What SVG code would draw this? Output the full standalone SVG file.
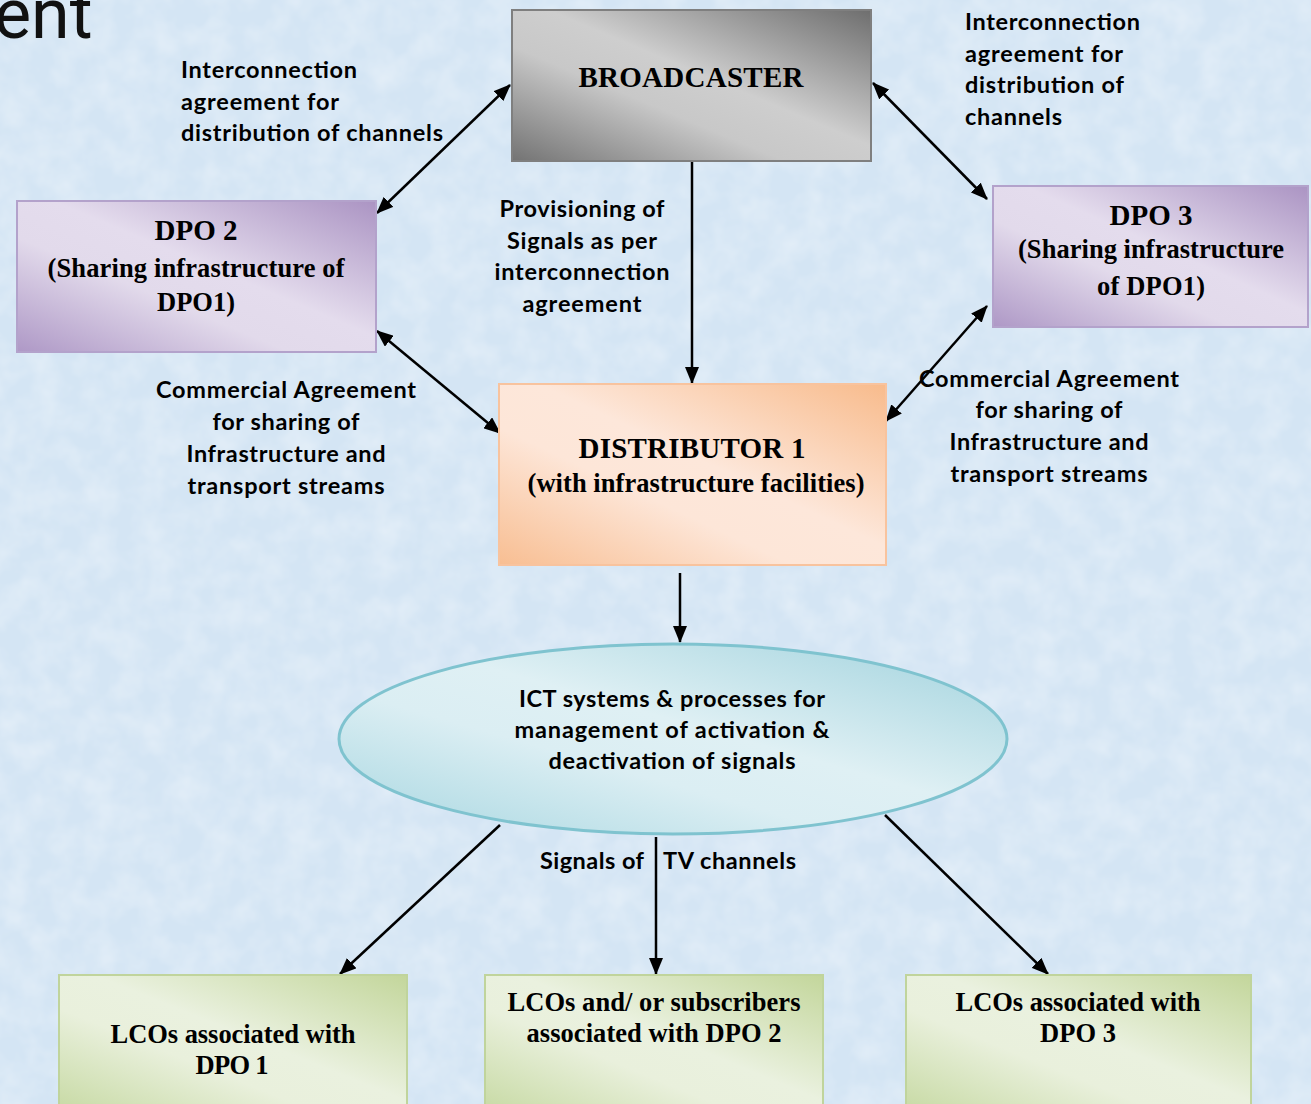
<svg xmlns="http://www.w3.org/2000/svg" width="1311" height="1104" viewBox="0 0 1311 1104">
<style>
.sans{font-family:Lato,"Open Sans","Liberation Sans",sans-serif;font-weight:700;font-size:23.5px;fill:#000}
.serif{font-family:"Liberation Serif","Times New Roman",serif;font-weight:700;fill:#000}
.t{font-size:29px}
.s{font-size:26.5px}
.mid{text-anchor:middle}
.conn{stroke:#000;stroke-width:2.5;fill:none}
</style>
<defs>
<filter id="tex" x="0" y="0" width="100%" height="100%">
<feTurbulence type="fractalNoise" baseFrequency="0.035" numOctaves="3" seed="4"/>
<feColorMatrix type="matrix" values="0 0 0 0 1  0 0 0 0 1  0 0 0 0 1  0 0 0 0.55 -0.18"/>
</filter>
<linearGradient id="gGray" x1="1" y1="0" x2="0" y2="1">
<stop offset="0" stop-color="#6e6e6e"/><stop offset="0.45" stop-color="#cecece"/><stop offset="0.62" stop-color="#c8c8c8"/><stop offset="1" stop-color="#737373"/>
</linearGradient>
<linearGradient id="gPurple" x1="1" y1="0" x2="0" y2="1">
<stop offset="0" stop-color="#ab94c3"/><stop offset="0.45" stop-color="#e4dced"/><stop offset="0.62" stop-color="#e2daeb"/><stop offset="1" stop-color="#ae98c6"/>
</linearGradient>
<linearGradient id="gOrange" x1="1" y1="0" x2="0" y2="1">
<stop offset="0" stop-color="#f8bb8c"/><stop offset="0.45" stop-color="#fde7da"/><stop offset="0.62" stop-color="#fde6d8"/><stop offset="1" stop-color="#f8be92"/>
</linearGradient>
<linearGradient id="gGreen" x1="1" y1="0" x2="0" y2="1">
<stop offset="0" stop-color="#c3d69b"/><stop offset="0.45" stop-color="#eaf1df"/><stop offset="0.62" stop-color="#e9f0dc"/><stop offset="1" stop-color="#c6d9a2"/>
</linearGradient>
<linearGradient id="gCyan" x1="1" y1="0" x2="0" y2="1">
<stop offset="0" stop-color="#a0d2dd"/><stop offset="0.45" stop-color="#dff0f4"/><stop offset="0.62" stop-color="#dbeef3"/><stop offset="1" stop-color="#a6d6e0"/>
</linearGradient>
<marker id="ah" markerUnits="userSpaceOnUse" markerWidth="18" markerHeight="14" refX="16" refY="7" orient="auto-start-reverse">
<path d="M0,0 L17,7 L0,14 z" fill="#000"/>
</marker>
</defs>
<rect x="0" y="0" width="1311" height="1104" fill="#d4e5f4"/>
<rect x="0" y="0" width="1311" height="1104" filter="url(#tex)"/>
<text x="-6" y="38" font-family="Roboto,'Liberation Sans',sans-serif" font-size="70" fill="#111">ent</text>

<g id="connectors">
<line class="conn" x1="510" y1="85" x2="377" y2="213" marker-start="url(#ah)" marker-end="url(#ah)"/>
<line class="conn" x1="873" y1="83" x2="987" y2="199" marker-start="url(#ah)" marker-end="url(#ah)"/>
<line class="conn" x1="692" y1="161" x2="692" y2="383" marker-end="url(#ah)"/>
<line class="conn" x1="377" y1="331" x2="500" y2="433" marker-start="url(#ah)" marker-end="url(#ah)"/>
<line class="conn" x1="987" y1="306" x2="886" y2="421" marker-start="url(#ah)" marker-end="url(#ah)"/>
<line class="conn" x1="680" y1="573" x2="680" y2="642" marker-end="url(#ah)"/>
<line class="conn" x1="500" y1="825" x2="340" y2="974" marker-end="url(#ah)"/>
<line class="conn" x1="656" y1="837" x2="656" y2="974" marker-end="url(#ah)"/>
<line class="conn" x1="885" y1="815" x2="1048" y2="974" marker-end="url(#ah)"/>
</g>

<g id="labels">
<text class="sans" y="78"><tspan x="181" textLength="176">Interconnection</tspan><tspan x="181" y="110" textLength="158">agreement for</tspan><tspan x="181" y="141" textLength="262">distribution of channels</tspan></text>
<text class="sans" y="30"><tspan x="965" textLength="175">Interconnection</tspan><tspan x="965" y="62" textLength="158">agreement for</tspan><tspan x="965" y="93" textLength="159">distribution of</tspan><tspan x="965" y="125" textLength="97">channels</tspan></text>
<text class="sans mid"><tspan x="582" y="217" textLength="165">Provisioning of</tspan><tspan x="582" y="249" textLength="150">Signals as per</tspan><tspan x="582" y="280" textLength="175">interconnection</tspan><tspan x="582" y="312" textLength="119">agreement</tspan></text>
<text class="sans mid"><tspan x="286" y="398" textLength="260">Commercial Agreement</tspan><tspan x="286" y="430" textLength="147">for sharing of</tspan><tspan x="286" y="462" textLength="199">Infrastructure and</tspan><tspan x="286" y="494" textLength="197">transport streams</tspan></text>
<text class="sans mid"><tspan x="1049" y="387" textLength="260">Commercial Agreement</tspan><tspan x="1049" y="418" textLength="147">for sharing of</tspan><tspan x="1049" y="450" textLength="199">Infrastructure and</tspan><tspan x="1049" y="482" textLength="197">transport streams</tspan></text>
<text class="sans" x="540" y="869" textLength="104">Signals of</text>
<text class="sans" x="663" y="869" textLength="133">TV channels</text>
</g>

<g id="broadcaster">
<rect x="512" y="10" width="359" height="151" fill="url(#gGray)" stroke="#7f7f7f" stroke-width="2"/>
<text class="serif t mid" x="691" y="87" textLength="225">BROADCASTER</text>
</g>

<g id="dpo2">
<rect x="17" y="201" width="359" height="151" fill="url(#gPurple)" stroke="#b3a2cb" stroke-width="2"/>
<text class="serif t mid" x="196" y="240" textLength="83">DPO 2</text>
<text class="serif s mid" x="196" y="277" textLength="297">(Sharing infrastructure of</text>
<text class="serif s mid" x="196" y="311" textLength="78">DPO1)</text>
</g>

<g id="dpo3">
<rect x="993" y="186" width="315" height="141" fill="url(#gPurple)" stroke="#b3a2cb" stroke-width="2"/>
<text class="serif t mid" x="1151" y="225" textLength="83">DPO 3</text>
<text class="serif s mid" x="1151" y="258" textLength="266">(Sharing infrastructure</text>
<text class="serif s mid" x="1151" y="295" textLength="108">of DPO1)</text>
</g>

<g id="distributor">
<rect x="499" y="384" width="387" height="181" fill="url(#gOrange)" stroke="#f8c39e" stroke-width="2"/>
<text class="serif t mid" x="692" y="458" textLength="227">DISTRIBUTOR 1</text>
<text class="serif s mid" x="696" y="492" textLength="337">(with infrastructure facilities)</text>
</g>

<g id="ict">
<ellipse cx="673" cy="739" rx="334" ry="95" fill="url(#gCyan)" stroke="#7fc3cf" stroke-width="3"/>
<text class="sans mid"><tspan x="672" y="707" textLength="306">ICT systems &amp; processes for</tspan><tspan x="672" y="738" textLength="315">management of activation &amp;</tspan><tspan x="672" y="769" textLength="247">deactivation of signals</tspan></text>
</g>

<g id="lco1">
<rect x="59" y="975" width="348" height="140" fill="url(#gGreen)" stroke="#c0d49c" stroke-width="2"/>
<text class="serif s mid" x="233" y="1043" textLength="245">LCOs associated with</text>
<text class="serif s mid" x="232" y="1074" textLength="73">DPO 1</text>
</g>

<g id="lco2">
<rect x="485" y="975" width="338" height="140" fill="url(#gGreen)" stroke="#c0d49c" stroke-width="2"/>
<text class="serif s mid" x="654" y="1011" textLength="293">LCOs and/ or subscribers</text>
<text class="serif s mid" x="654" y="1042" textLength="255">associated with DPO 2</text>
</g>

<g id="lco3">
<rect x="906" y="975" width="345" height="140" fill="url(#gGreen)" stroke="#c0d49c" stroke-width="2"/>
<text class="serif s mid" x="1078" y="1011" textLength="245">LCOs associated with</text>
<text class="serif s mid" x="1078" y="1042" textLength="76">DPO 3</text>
</g>
</svg>
